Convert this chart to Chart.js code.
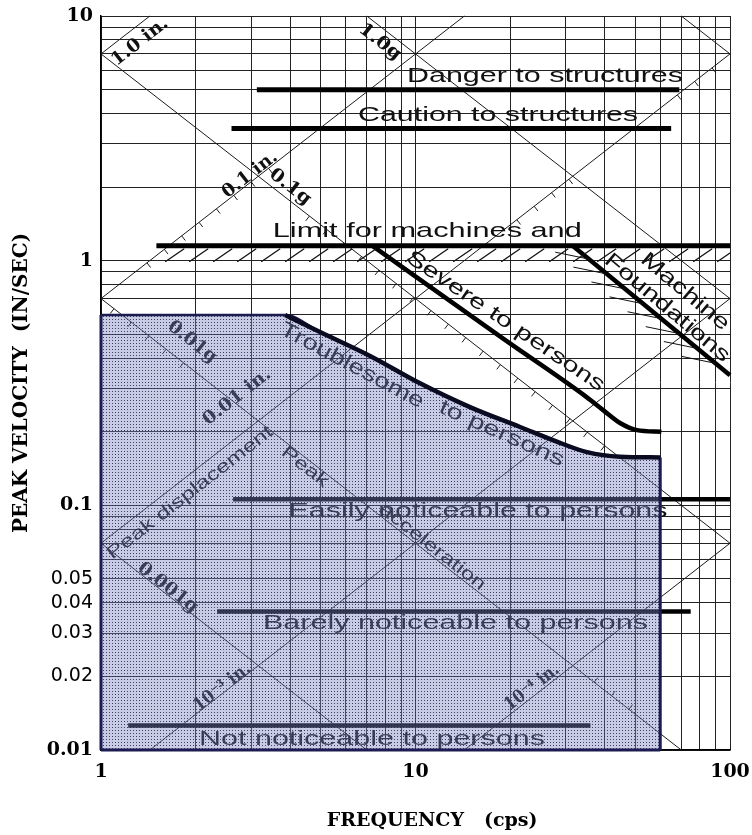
<!DOCTYPE html>
<html>
<head>
<meta charset="utf-8">
<script src="https://cdn.jsdelivr.net/npm/chart.js@4.4.1/dist/chart.umd.min.js"></script>
<style>
  html, body { margin: 0; padding: 0; background: #fff; }
  #wrap { width: 752px; height: 835px; }
</style>
</head>
<body>
<div id="wrap"><canvas id="vib"></canvas></div>
<script>
// grid / tick values
const xGrid = [1, 2, 3, 4, 5, 6, 7, 8, 9, 10, 20, 30, 40, 50, 60, 70, 80, 90, 100];
const yGrid = [0.01, 0.02, 0.03, 0.04, 0.05, 0.06, 0.07, 0.08, 0.09,
               0.1, 0.2, 0.3, 0.4, 0.5, 0.6, 0.7, 0.8, 0.9,
               1, 2, 3, 4, 5, 6, 7, 8, 9, 10];
const xLabels = [1, 10, 100];
const yLabels = [0.01, 0.02, 0.03, 0.04, 0.05, 0.1, 1, 10];
const yBold = [0.01, 0.1, 1, 10];

// criteria lines [frequency, velocity]
const danger = [[3.13, 5.0], [69, 5.0]];
const caution = [[2.6, 3.47], [65, 3.47]];
const limitMachines = [[1.5, 1.15], [100, 1.15]];
const easily = [[2.63, 0.106], [100, 0.106]];
const barely = [[2.34, 0.0368], [75, 0.0368]];
const notNoticeable = [[1.22, 0.0126], [36, 0.0126]];
const severe = [[7.3, 1.15], [19, 0.48], [35, 0.277], [39.5, 0.245], [44.7, 0.217], [50.6, 0.203], [60.5, 0.2]];
const foundations = [[31.6, 1.15], [100, 0.34]];
const troublesome = [[3.85, 0.6], [4.97, 0.511], [7.17, 0.408], [10.3, 0.316], [14.9, 0.252],
                     [21.5, 0.209], [28.8, 0.18], [35.1, 0.165], [44.7, 0.158], [60, 0.157]];
const shadeTop = [[1, 0.6]].concat(troublesome);
const shadeRight = [[60, 0.157], [60, 0.01]];
const shadeLeft = [[1, 0.01], [1, 0.6]];
const shadeBottom = [[1, 0.01], [60, 0.01]];

// peak displacement lines
const disp1 = [[1, 7], [1.43, 10]];
const disp01 = [[1, 0.7], [14.3, 10]];
const disp001 = [[1, 0.07], [100, 7]];
const disp0001 = [[1.43, 0.01], [100, 0.7]];
const disp00001 = [[14.3, 0.01], [100, 0.07]];
// peak acceleration lines
const acc10 = [[70, 10], [100, 7]];
const acc1 = [[7, 10], [100, 0.7]];
const acc01 = [[1, 7], [100, 0.07]];
const acc001 = [[1, 0.7], [70, 0.01]];
const acc0001 = [[1, 0.07], [7, 0.01]];

const pts = arr => arr.map(([x, y]) => ({x, y}));

function line(data, color, width, order, extra) {
    return Object.assign({
        data: pts(data),
        showLine: true,
        borderColor: color,
        borderWidth: width,
        pointRadius: 0,
        fill: false,
        order: order,
        clip: 4
    }, extra || {});
}

const shadePattern = (() => {
    const c = document.createElement('canvas');
    c.width = 3; c.height = 3;
    const g = c.getContext('2d');
    g.fillStyle = 'rgba(125,130,190,0.42)';
    g.fillRect(0, 0, 3, 3);
    g.fillStyle = 'rgba(30,30,75,0.8)';
    g.fillRect(1, 1, 1, 1);
    return g.createPattern(c, 'repeat');
})();

const navy = '#1c1c52';
const thin = '#1a1a1a';

const sans = px => px + 'px "Liberation Sans", Arial, sans-serif';
const serifB = px => 'bold ' + px + 'px "DejaVu Serif", serif';

// text annotations, placed in data coordinates; slope: +1 / -1 follows diagonal lines
const notes = [
    {t: 'Danger to structures', f: 25.8, v: 5.69, w: 276, font: sans(21)},
    {t: 'Caution to structures', f: 18.3, v: 3.94, w: 280, font: sans(21)},
    {t: 'Limit for machines and', f: 10.9, v: 1.32, w: 309, font: sans(21)},
    {t: 'Easily noticeable to persons', f: 15.8, v: 0.0949, w: 379, font: sans(21)},
    {t: 'Barely noticeable to persons', f: 13.4, v: 0.0331, w: 385, font: sans(21)},
    {t: 'Not noticeable to persons', f: 7.27, v: 0.0111, w: 346, font: sans(21)},
    {t: 'Severe to persons', f: 19.3, v: 0.565, w: 235, deg: 34, font: sans(21)},
    {t: 'Machine', f: 71.9, v: 0.745, w: 109, deg: 40, font: sans(21)},
    {t: 'Foundations', f: 63.1, v: 0.641, w: 157, deg: 40, font: sans(21)},
    {t: 'Troublesome', f: 6.28, v: 0.372, w: 160, deg: 28, font: sans(21)},
    {t: 'to persons', f: 18.8, v: 0.196, w: 135, deg: 24, font: sans(21)},
    {t: '1.0 in.', f: 1.33, v: 7.83, w: 67, slope: 1, font: serifB(18)},
    {t: '1.0g', f: 7.71, v: 7.83, w: 49, slope: -1, font: serifB(18)},
    {t: '0.1 in.', f: 2.98, v: 2.24, w: 65, slope: 1, font: serifB(18)},
    {t: '0.1g', f: 3.99, v: 2.0, w: 48, slope: -1, font: serifB(18)},
    {t: '0.01g', f: 1.95, v: 0.465, w: 57, slope: -1, font: serifB(18)},
    {t: '0.01 in.', f: 2.71, v: 0.277, w: 81, slope: 1, font: serifB(18)},
    {t: 'Peak displacement', f: 1.92, v: 0.1124, w: 205, slope: 1, font: sans(18)},
    {t: 'Peak', f: 4.45, v: 0.1435, w: 55, slope: -1, font: sans(18)},
    {t: 'acceleration', f: 11.3, v: 0.0676, w: 130, slope: -1, font: sans(18)},
    {t: '0.001g', f: 1.63, v: 0.046, w: 71, slope: -1, font: serifB(18)},
    {t: '10\u207B\u00B3 in.', f: 2.43, v: 0.018, w: 67, slope: 1, font: serifB(18)},
    {t: '10\u207B\u2074 in.', f: 23.5, v: 0.018, w: 64, slope: 1, font: serifB(18)}
];

// small scale marks along some diagonals: frequency range, side (+1 below, -1 above)
const lineMarks = [
    {line: disp01, from: 1.4, to: 3.6, side: 1},
    {line: acc01, from: 4.6, to: 42, side: 1},
    {line: disp001, from: 21, to: 32, side: 1},
    {line: disp001, from: 68, to: 92, side: 1},
    {line: acc001, from: 1.1, to: 1.9, side: 1},
    {line: acc001, from: 37, to: 50, side: -1}
];

function fitText(ctx, txt, x, y, deg, font, width, color) {
    ctx.save();
    ctx.font = font;
    const w = ctx.measureText(txt).width;
    ctx.translate(x, y);
    ctx.rotate(deg * Math.PI / 180);
    ctx.scale(width / w, 1);
    ctx.textAlign = 'center';
    ctx.textBaseline = 'middle';
    ctx.fillStyle = color;
    ctx.fillText(txt, 0, 0);
    ctx.restore();
}

const notesPlugin = {
    id: 'notes',
    beforeDatasetsDraw(chart) {
        const {ctx, scales: {x, y}} = chart;
        const dx = x.getPixelForValue(10) - x.getPixelForValue(1);
        const dy = y.getPixelForValue(1) - y.getPixelForValue(10);
        const diag = Math.atan(dy / dx) * 180 / Math.PI;
        notes.forEach(n => {
            const deg = n.slope ? -n.slope * diag : (n.deg || 0);
            fitText(ctx, n.t, x.getPixelForValue(n.f), y.getPixelForValue(n.v), deg, n.font, n.w, '#111');
        });
        // marks along diagonals
        ctx.save();
        ctx.strokeStyle = thin;
        ctx.lineWidth = 1;
        ctx.beginPath();
        lineMarks.forEach(m => {
            const [p, q] = m.line;
            const px0 = x.getPixelForValue(p[0]), py0 = y.getPixelForValue(p[1]);
            const px1 = x.getPixelForValue(q[0]), py1 = y.getPixelForValue(q[1]);
            const len = Math.hypot(px1 - px0, py1 - py0);
            const ux = (px1 - px0) / len, uy = (py1 - py0) / len;
            const nx = -uy * m.side, ny = ux * m.side;
            const a = x.getPixelForValue(m.from), b = x.getPixelForValue(m.to);
            for (let s = 0; ; s += 22) {
                const cx = a + ux * s;
                if (cx > b) break;
                const cy = py0 + (cx - px0) * uy / ux;
                ctx.moveTo(cx, cy);
                ctx.lineTo(cx + nx * 6, cy + ny * 6);
            }
        });
        ctx.stroke();
        ctx.restore();
    },
    afterDatasetsDraw(chart) {
        const {ctx, chartArea, scales: {x, y}} = chart;
        ctx.save();
        ctx.beginPath();
        ctx.rect(chartArea.left, chartArea.top, chartArea.right - chartArea.left, chartArea.bottom - chartArea.top);
        ctx.clip();
        ctx.strokeStyle = '#111';
        ctx.lineWidth = 1.3;
        // hatching under the machine limit
        const yl = y.getPixelForValue(limitMachines[0][1]);
        ctx.beginPath();
        for (let px = x.getPixelForValue(1.6); px < chartArea.right; px += 24) {
            ctx.moveTo(px, yl + 16);
            ctx.lineTo(px + 19, yl + 3);
        }
        ctx.stroke();
        // hatching along machine foundations
        const ax = x.getPixelForValue(foundations[0][0]), ay = y.getPixelForValue(foundations[0][1]);
        const bx = x.getPixelForValue(foundations[1][0]), by = y.getPixelForValue(foundations[1][1]);
        ctx.lineWidth = 1;
        ctx.beginPath();
        for (let t = 0.08; t < 0.95; t += 0.115) {
            const px = ax + (bx - ax) * t, py = ay + (by - ay) * t;
            ctx.moveTo(px - 30, py - 4);
            ctx.lineTo(px + 4, py + 3);
        }
        ctx.stroke();
        ctx.restore();
    }
};

new Chart(document.getElementById('vib'), {
    type: 'scatter',
    data: {
        datasets: [
            line(troublesome, '#0a0a20', 4.5, 0, {cubicInterpolationMode: 'monotone'}),
            line(shadeRight, navy, 3, 0),
            line(shadeLeft, navy, 3, 0),
            line(shadeBottom, navy, 3, 0),
            line(shadeTop, navy, 2.5, 1, {cubicInterpolationMode: 'monotone', fill: 'start', backgroundColor: shadePattern}),
            line(danger, '#000', 5, 2),
            line(caution, '#000', 5, 2),
            line(limitMachines, '#000', 5, 2),
            line(easily, '#000', 4.5, 2),
            line(barely, '#000', 4.5, 2),
            line(notNoticeable, '#000', 4.5, 2),
            line(severe, '#000', 4.5, 2, {cubicInterpolationMode: 'monotone'}),
            line(foundations, '#000', 4.5, 2),
            line(disp1, thin, 1, 3),
            line(disp01, thin, 1, 3),
            line(disp001, thin, 1, 3),
            line(disp0001, thin, 1, 3),
            line(disp00001, thin, 1, 3),
            line(acc10, thin, 1, 3),
            line(acc1, thin, 1, 3),
            line(acc01, thin, 1, 3),
            line(acc001, thin, 1, 3),
            line(acc0001, thin, 1, 3)
        ]
    },
    options: {
        responsive: true,
        maintainAspectRatio: false,
        animation: false,
        layout: { padding: { left: 0, right: 22, top: 16, bottom: 0 } },
        plugins: {
            legend: { display: false },
            tooltip: { enabled: false }
        },
        scales: {
            x: {
                type: 'logarithmic',
                min: 1,
                max: 100,
                afterBuildTicks: s => { s.ticks = xGrid.map(v => ({value: v})); },
                afterFit: s => { s.height = 85; s.paddingLeft = 0; s.paddingRight = 0; },
                grid: { color: '#222', lineWidth: 1, drawTicks: false },
                border: { color: '#000', width: 1.5 },
                ticks: {
                    autoSkip: false,
                    maxRotation: 0,
                    padding: 11,
                    color: '#000',
                    callback: v => xLabels.includes(v) ? String(v) : '',
                    font: { family: 'DejaVu Serif', weight: 'bold', size: 19 }
                },
                title: {
                    display: true,
                    text: '     FREQUENCY   (cps)',
                    color: '#000',
                    font: { family: 'DejaVu Serif', weight: 'bold', size: 19 },
                    padding: { top: 0, bottom: 3 }
                }
            },
            y: {
                type: 'logarithmic',
                min: 0.01,
                max: 10,
                afterBuildTicks: s => { s.ticks = yGrid.map(v => ({value: v})); },
                afterFit: s => { s.width = 101; s.paddingTop = 0; s.paddingBottom = 0; },
                grid: { color: '#222', lineWidth: 1, drawTicks: false },
                border: { color: '#000', width: 1.5 },
                ticks: {
                    autoSkip: false,
                    padding: 8,
                    color: '#000',
                    callback: v => yLabels.includes(v) ? String(v) : '',
                    font: ctx => yBold.includes(ctx.tick && ctx.tick.value)
                        ? { family: 'DejaVu Serif', weight: 'bold', size: 19 }
                        : { family: 'DejaVu Sans', size: 19 }
                },
                title: {
                    display: true,
                    text: 'PEAK VELOCITY  (IN/SEC)',
                    color: '#000',
                    font: { family: 'DejaVu Serif', weight: 'bold', size: 20 },
                    padding: { top: 10, bottom: 0 }
                }
            }
        }
    },
    plugins: [notesPlugin]
});
</script>
</body>
</html>
